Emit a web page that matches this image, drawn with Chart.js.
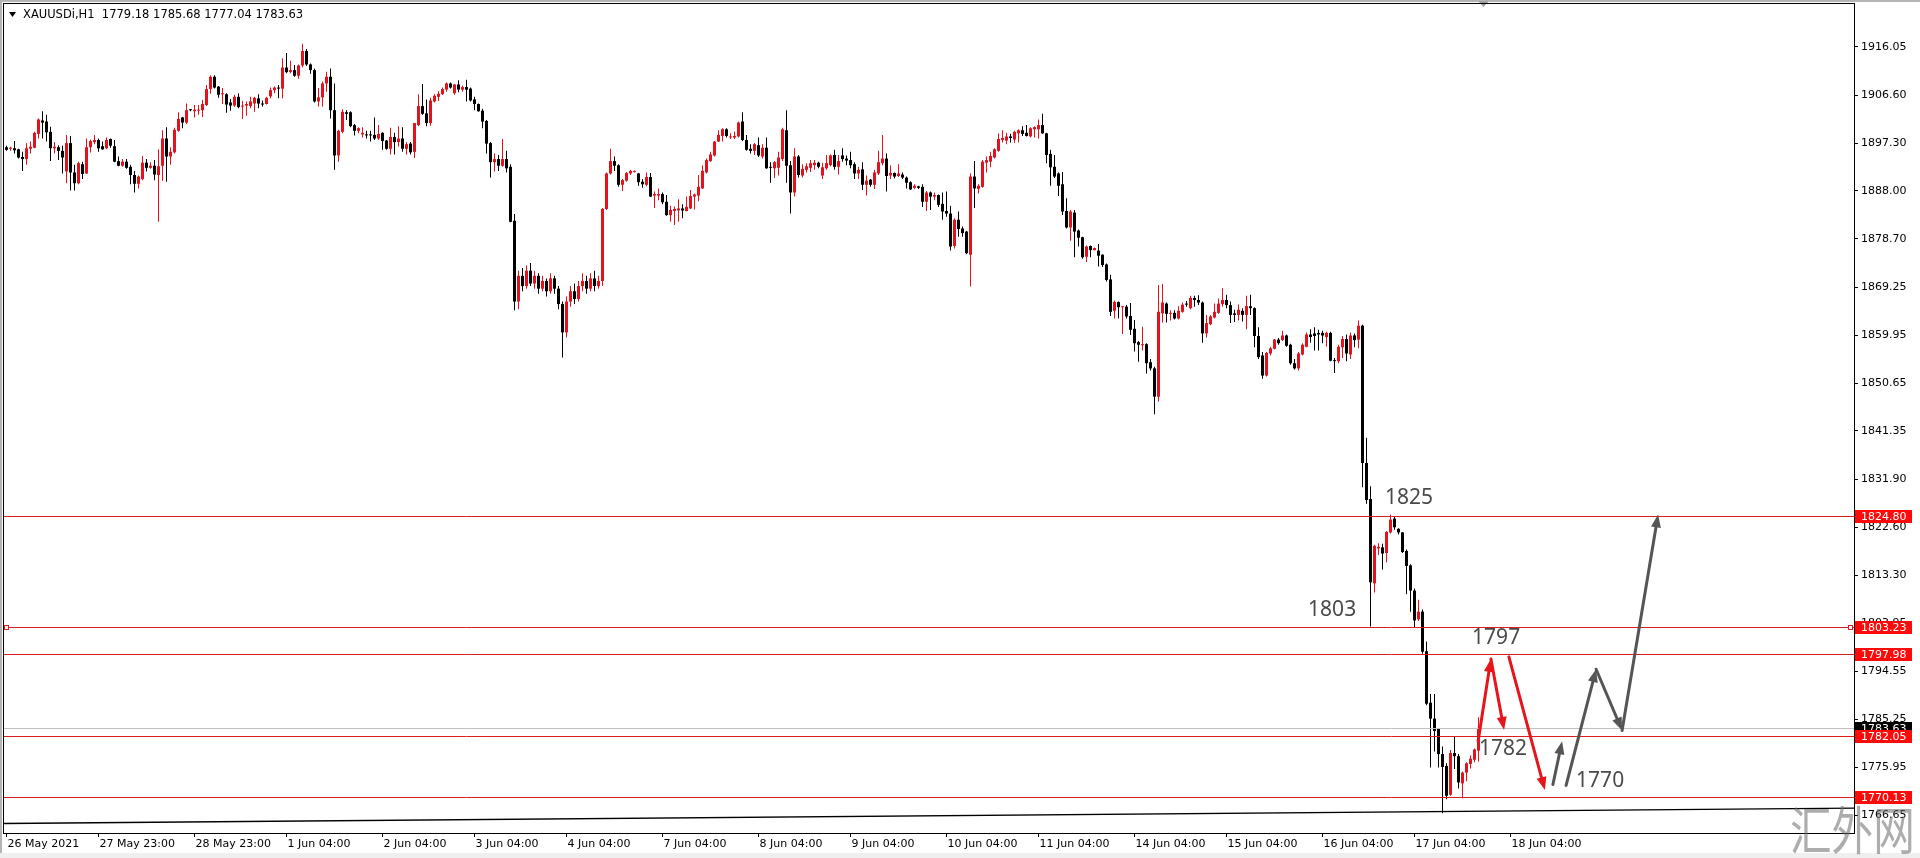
<!DOCTYPE html>
<html>
<head>
<meta charset="utf-8">
<title>XAUUSDi,H1</title>
<script src="https://cdn.jsdelivr.net/npm/chart.js@4.4.1/dist/chart.umd.min.js"></script>
<style>
  html, body { margin: 0; padding: 0; background: #fff; overflow: hidden; }
  canvas { display: block; }
</style>
</head>
<body>
<canvas id="chart" width="1920" height="858"></canvas>
<script>
const symbolName = 'XAUUSDi,H1';

// hourly candles (26 May - 17 Jun 2021)
const opens = [
  1896.5, 1896.2, 1896.3, 1896.1, 1894.6, 1894.2, 1896.2, 1896.4, 1899.1, 1901.7,
  1901.5, 1899.5, 1896.3, 1896.5, 1895.8, 1891.8, 1897.3, 1891.6, 1889.5, 1893.2,
  1891.4, 1896.5, 1897.5, 1897.9, 1896.7, 1896.3, 1898.1, 1896.7, 1893.8, 1892.9,
  1893.7, 1892.7, 1891.1, 1889.4, 1890.3, 1893.5, 1892.5, 1892.9, 1891.1, 1892.9,
  1898.2, 1894.7, 1895.5, 1899.7, 1902.3, 1901.3, 1903.8, 1903.5, 1903.6, 1903.7,
  1904.7, 1907.8, 1910.2, 1908.3, 1906.8, 1906.8, 1905.2, 1904.6, 1906.3, 1904.4,
  1904.6, 1904.5, 1905.0, 1906.0, 1905.0, 1904.9, 1906.4, 1907.6, 1908.1, 1907.9,
  1912.0, 1911.1, 1911.5, 1910.4, 1912.4, 1915.2, 1912.6, 1911.5, 1905.4, 1906.2,
  1908.9, 1910.2, 1903.7, 1894.9, 1899.5, 1903.3, 1903.3, 1900.8, 1899.7, 1899.0,
  1899.0, 1898.9, 1898.9, 1898.2, 1899.3, 1897.8, 1896.2, 1898.5, 1897.5, 1898.2,
  1896.2, 1897.2, 1895.6, 1900.8, 1904.5, 1903.1, 1901.2, 1905.4, 1906.3, 1906.8,
  1907.7, 1908.9, 1907.0, 1908.7, 1907.7, 1908.2, 1907.9, 1905.8, 1904.9, 1903.6,
  1901.6, 1897.3, 1893.6, 1894.2, 1892.9, 1894.2, 1892.7, 1882.2, 1866.5, 1871.5,
  1869.5, 1872.5, 1870.0, 1871.5, 1869.0, 1870.5, 1868.5, 1871.0, 1869.0, 1866.0,
  1860.5, 1866.5, 1868.5, 1867.0, 1869.5, 1870.5, 1869.0, 1871.0, 1869.5, 1870.5,
  1884.5, 1891.4, 1893.8, 1893.0, 1889.2, 1890.0, 1891.4, 1891.7, 1891.4, 1889.8,
  1889.2, 1890.7, 1887.1, 1887.1, 1887.4, 1885.9, 1883.3, 1884.1, 1884.2, 1884.6,
  1884.1, 1884.6, 1886.9, 1887.1, 1888.5, 1891.6, 1893.8, 1894.9, 1897.6, 1898.7,
  1900.0, 1898.4, 1898.4, 1898.6, 1901.5, 1897.9, 1896.2, 1895.8, 1896.9, 1894.7,
  1896.4, 1892.7, 1892.4, 1892.5, 1894.2, 1899.8, 1893.0, 1887.7, 1894.7, 1891.0,
  1892.1, 1892.5, 1893.0, 1893.5, 1891.0, 1892.4, 1893.0, 1895.0, 1892.7, 1894.9,
  1894.3, 1894.0, 1893.2, 1891.4, 1892.2, 1889.2, 1890.2, 1889.2, 1891.4, 1893.4,
  1894.3, 1891.0, 1891.5, 1890.9, 1891.2, 1890.6, 1889.7, 1888.6, 1888.9, 1888.8,
  1885.9, 1887.7, 1886.9, 1887.2, 1885.5, 1884.1, 1883.6, 1877.3, 1882.4, 1880.7,
  1880.1, 1875.6, 1890.8, 1888.4, 1888.8, 1893.5, 1893.7, 1894.5, 1895.8, 1897.9,
  1897.8, 1898.6, 1898.0, 1899.2, 1899.8, 1899.3, 1898.6, 1900.0, 1900.0, 1900.8,
  1899.2, 1895.2, 1892.7, 1891.4, 1889.3, 1884.1, 1880.9, 1883.8, 1880.3, 1879.0,
  1875.2, 1877.3, 1876.5, 1876.4, 1875.6, 1873.7, 1870.8, 1864.7, 1866.4, 1865.4,
  1865.5, 1863.7, 1861.2, 1858.6, 1858.0, 1858.2, 1854.7, 1853.5, 1848.0, 1864.2,
  1866.1, 1864.1, 1864.3, 1863.2, 1864.5, 1866.1, 1865.2, 1867.2, 1866.8, 1866.3,
  1860.3, 1862.1, 1863.4, 1864.3, 1866.0, 1866.8, 1865.8, 1864.2, 1863.9, 1864.7,
  1863.9, 1865.6, 1865.2, 1859.8, 1856.0, 1852.1, 1856.4, 1857.3, 1859.1, 1859.0,
  1859.9, 1858.1, 1854.5, 1853.5, 1856.2, 1857.7, 1860.1, 1860.3, 1860.4, 1860.4,
  1859.6, 1860.4, 1855.1, 1854.9, 1857.6, 1859.2, 1856.2, 1859.9, 1859.1, 1861.8,
  1835.1, 1828.1, 1811.7, 1818.5, 1818.7, 1817.6, 1821.6, 1824.3, 1822.3, 1821.6,
  1818.0, 1815.2, 1810.3, 1804.7, 1806.2, 1798.5, 1788.5, 1785.4, 1783.4, 1778.5,
  1776.2, 1770.6, 1778.7, 1778.1, 1772.8, 1774.9, 1776.6, 1777.4, 1779.18
];
const highs = [
  1896.8, 1896.6, 1897.7, 1896.2, 1895.6, 1897.3, 1897.6, 1899.5, 1902.1, 1903.5,
  1902.8, 1900.5, 1897.5, 1896.9, 1896.8, 1898.9, 1898.7, 1893.1, 1893.7, 1893.7,
  1898.2, 1898.0, 1898.9, 1898.2, 1897.6, 1898.4, 1898.2, 1897.9, 1894.7, 1894.2,
  1894.2, 1893.1, 1891.9, 1891.0, 1894.8, 1894.2, 1893.6, 1894.0, 1896.1, 1899.8,
  1900.4, 1896.5, 1900.3, 1903.3, 1902.4, 1905.0, 1903.9, 1904.7, 1904.7, 1905.7,
  1908.6, 1910.5, 1910.5, 1908.4, 1908.0, 1907.0, 1905.9, 1906.7, 1907.0, 1905.5,
  1905.4, 1906.3, 1906.3, 1906.8, 1905.6, 1906.3, 1908.1, 1908.3, 1908.6, 1913.8,
  1914.8, 1913.3, 1912.5, 1912.6, 1916.6, 1915.6, 1912.8, 1911.8, 1908.0, 1909.3,
  1911.2, 1911.8, 1908.9, 1899.9, 1903.9, 1903.7, 1903.5, 1901.0, 1900.4, 1900.4,
  1899.7, 1899.7, 1902.3, 1900.8, 1899.4, 1897.9, 1900.3, 1899.3, 1900.6, 1900.4,
  1897.5, 1897.5, 1901.2, 1906.8, 1908.8, 1905.8, 1906.1, 1906.8, 1907.4, 1908.1,
  1909.1, 1909.1, 1908.8, 1909.5, 1908.5, 1909.6, 1908.1, 1906.3, 1905.0, 1904.0,
  1901.8, 1897.5, 1895.3, 1895.0, 1898.1, 1895.8, 1893.2, 1883.5, 1872.5, 1873.0,
  1873.5, 1874.0, 1872.5, 1872.0, 1871.5, 1871.0, 1872.0, 1871.5, 1869.5, 1866.5,
  1867.5, 1869.5, 1870.0, 1870.5, 1872.0, 1871.5, 1872.0, 1872.5, 1871.5, 1884.7,
  1891.6, 1896.2, 1894.7, 1893.2, 1890.3, 1891.7, 1892.1, 1892.0, 1891.5, 1890.3,
  1891.6, 1891.5, 1887.9, 1888.5, 1887.7, 1887.2, 1885.1, 1885.0, 1886.4, 1885.4,
  1886.9, 1888.2, 1887.5, 1891.1, 1893.0, 1894.3, 1895.6, 1897.7, 1899.8, 1900.2,
  1900.2, 1899.2, 1899.5, 1901.5, 1903.3, 1898.9, 1897.1, 1897.3, 1898.4, 1897.1,
  1898.4, 1893.6, 1893.8, 1895.6, 1900.3, 1903.7, 1893.8, 1896.3, 1895.0, 1893.2,
  1893.4, 1894.0, 1894.0, 1893.7, 1893.5, 1895.0, 1895.1, 1896.0, 1895.0, 1896.3,
  1894.9, 1895.6, 1893.6, 1892.7, 1893.6, 1891.0, 1890.3, 1892.1, 1895.8, 1898.9,
  1895.3, 1893.0, 1891.6, 1893.2, 1891.6, 1890.8, 1889.9, 1889.3, 1889.0, 1889.3,
  1888.0, 1887.9, 1887.7, 1887.3, 1887.7, 1887.9, 1885.1, 1882.7, 1884.0, 1881.1,
  1880.2, 1891.4, 1893.8, 1889.3, 1894.0, 1894.7, 1895.6, 1896.3, 1899.2, 1899.8,
  1899.3, 1899.1, 1899.7, 1900.0, 1900.6, 1900.8, 1900.4, 1900.6, 1901.9, 1903.0,
  1899.3, 1896.0, 1895.0, 1891.6, 1891.7, 1886.6, 1884.3, 1884.3, 1880.5, 1879.1,
  1877.4, 1877.4, 1877.0, 1877.7, 1875.7, 1873.9, 1871.7, 1866.7, 1866.5, 1865.6,
  1865.8, 1866.2, 1862.9, 1858.8, 1861.6, 1858.4, 1855.3, 1853.8, 1869.7, 1869.9,
  1866.3, 1864.8, 1864.8, 1865.6, 1866.3, 1866.6, 1867.6, 1867.6, 1867.7, 1866.5,
  1863.9, 1863.9, 1866.1, 1867.1, 1869.1, 1867.8, 1866.5, 1864.9, 1865.9, 1865.2,
  1867.6, 1867.8, 1865.4, 1861.5, 1856.7, 1856.7, 1857.7, 1859.2, 1859.4, 1860.8,
  1860.1, 1858.3, 1855.3, 1856.7, 1858.4, 1860.5, 1861.1, 1861.5, 1861.0, 1860.8,
  1860.6, 1860.6, 1855.5, 1858.1, 1859.8, 1860.1, 1860.5, 1860.3, 1862.8, 1862.0,
  1840.0, 1830.6, 1819.2, 1819.5, 1819.4, 1821.9, 1825.1, 1824.6, 1822.4, 1821.7,
  1818.3, 1815.4, 1810.7, 1808.5, 1806.6, 1800.4, 1790.2, 1790.2, 1783.5, 1780.0,
  1776.7, 1779.3, 1782.0, 1778.5, 1775.1, 1776.9, 1778.3, 1779.6, 1785.68
];
const lows = [
  1895.8, 1895.8, 1895.3, 1894.3, 1891.9, 1893.1, 1895.3, 1896.3, 1898.2, 1898.2,
  1897.6, 1893.8, 1895.3, 1894.0, 1891.4, 1889.5, 1888.1, 1888.1, 1889.3, 1890.3,
  1891.3, 1895.5, 1897.1, 1895.6, 1896.0, 1896.1, 1896.4, 1893.6, 1892.8, 1892.7,
  1892.3, 1889.3, 1887.7, 1888.5, 1890.1, 1891.8, 1892.3, 1890.1, 1882.0, 1890.0,
  1889.8, 1893.1, 1895.3, 1899.5, 1900.2, 1901.0, 1903.5, 1902.3, 1902.8, 1902.4,
  1904.5, 1906.9, 1907.9, 1906.1, 1904.9, 1903.2, 1903.6, 1904.3, 1904.1, 1902.0,
  1902.6, 1904.1, 1903.4, 1904.1, 1904.4, 1904.8, 1906.0, 1907.0, 1906.0, 1906.0,
  1910.9, 1910.9, 1910.2, 1909.8, 1912.0, 1912.3, 1910.8, 1905.2, 1904.4, 1904.4,
  1907.3, 1902.1, 1892.1, 1893.7, 1899.2, 1901.8, 1900.4, 1898.8, 1899.2, 1898.4,
  1898.2, 1897.6, 1897.9, 1897.9, 1896.0, 1896.0, 1895.1, 1895.1, 1896.6, 1895.6,
  1895.1, 1895.1, 1894.4, 1900.6, 1902.8, 1900.6, 1900.7, 1905.2, 1905.5, 1906.7,
  1907.3, 1907.9, 1906.7, 1907.2, 1907.3, 1905.4, 1905.4, 1903.7, 1903.4, 1900.2,
  1895.3, 1890.6, 1891.8, 1891.9, 1892.7, 1891.6, 1881.9, 1864.8, 1865.0, 1868.5,
  1869.0, 1869.5, 1869.0, 1868.0, 1868.5, 1867.5, 1868.0, 1868.0, 1865.0, 1855.6,
  1859.5, 1865.5, 1866.0, 1866.5, 1868.5, 1868.0, 1868.5, 1868.5, 1869.0, 1869.5,
  1884.3, 1891.2, 1891.9, 1888.8, 1888.0, 1889.8, 1891.1, 1891.6, 1889.0, 1888.6,
  1888.9, 1886.8, 1884.7, 1886.2, 1885.4, 1883.2, 1882.0, 1881.4, 1882.0, 1882.7,
  1884.0, 1884.5, 1884.4, 1886.0, 1888.4, 1891.4, 1893.7, 1894.7, 1897.5, 1897.6,
  1898.4, 1898.1, 1898.1, 1898.4, 1897.7, 1895.8, 1895.3, 1895.0, 1894.6, 1894.3,
  1892.3, 1889.6, 1890.5, 1891.0, 1893.8, 1889.6, 1883.6, 1886.9, 1890.6, 1890.6,
  1891.6, 1891.7, 1892.1, 1892.4, 1890.3, 1892.1, 1892.8, 1892.1, 1891.2, 1893.7,
  1893.0, 1892.4, 1890.3, 1890.3, 1888.2, 1887.1, 1888.8, 1888.4, 1891.1, 1893.0,
  1887.9, 1890.3, 1890.4, 1890.7, 1890.3, 1888.5, 1888.2, 1888.4, 1888.4, 1884.9,
  1884.1, 1884.3, 1886.2, 1884.9, 1882.4, 1883.0, 1876.4, 1876.8, 1879.1, 1879.1,
  1875.7, 1869.4, 1884.7, 1887.5, 1888.6, 1891.6, 1892.6, 1894.3, 1895.6, 1897.4,
  1897.1, 1897.4, 1897.3, 1897.4, 1898.7, 1898.6, 1898.4, 1898.4, 1898.2, 1899.1,
  1893.4, 1889.0, 1890.5, 1887.0, 1883.3, 1880.7, 1878.3, 1875.1, 1877.2, 1874.8,
  1874.2, 1875.1, 1876.4, 1873.3, 1873.2, 1870.4, 1863.7, 1863.2, 1863.2, 1860.2,
  1863.2, 1860.0, 1856.8, 1854.8, 1857.0, 1852.5, 1853.1, 1844.6, 1847.0, 1862.4,
  1862.4, 1862.8, 1863.0, 1863.0, 1864.3, 1865.5, 1865.0, 1865.5, 1865.8, 1858.5,
  1859.5, 1861.9, 1863.2, 1864.1, 1865.5, 1865.2, 1862.3, 1862.5, 1862.8, 1862.6,
  1861.1, 1863.9, 1857.6, 1855.3, 1851.5, 1851.9, 1856.0, 1857.2, 1858.1, 1858.8,
  1857.7, 1854.2, 1853.3, 1853.1, 1856.0, 1857.6, 1858.5, 1857.0, 1857.0, 1858.4,
  1857.7, 1854.9, 1852.6, 1854.5, 1855.5, 1854.9, 1855.3, 1857.6, 1857.4, 1830.4,
  1827.2, 1803.3, 1809.9, 1817.2, 1814.4, 1815.8, 1821.4, 1822.1, 1821.2, 1817.6,
  1809.6, 1806.2, 1803.0, 1804.4, 1798.0, 1788.0, 1775.9, 1779.0, 1775.9, 1767.0,
  1769.7, 1770.4, 1775.6, 1771.8, 1769.9, 1773.2, 1775.7, 1776.9, 1777.04
];
const closes = [
  1896.0, 1896.4, 1895.9, 1894.5, 1894.2, 1896.3, 1896.6, 1899.3, 1901.9, 1901.3,
  1899.4, 1896.3, 1896.6, 1895.8, 1894.5, 1897.3, 1891.6, 1889.5, 1893.4, 1891.3,
  1896.5, 1897.7, 1897.9, 1896.3, 1896.1, 1897.9, 1896.8, 1893.7, 1892.9, 1893.7,
  1892.5, 1891.1, 1889.4, 1890.8, 1893.5, 1892.5, 1892.9, 1891.2, 1892.8, 1898.2,
  1894.7, 1895.6, 1899.9, 1902.0, 1901.3, 1903.7, 1903.7, 1903.8, 1903.8, 1904.9,
  1907.8, 1910.2, 1908.1, 1906.7, 1907.0, 1904.8, 1904.6, 1906.3, 1904.3, 1904.6,
  1904.9, 1905.4, 1906.1, 1905.0, 1904.8, 1906.1, 1907.6, 1908.1, 1907.9, 1912.0,
  1911.1, 1911.5, 1910.4, 1912.4, 1915.2, 1912.6, 1911.5, 1905.4, 1906.2, 1908.9,
  1910.2, 1903.7, 1894.9, 1899.7, 1903.4, 1903.0, 1900.6, 1899.7, 1900.2, 1899.3,
  1898.8, 1898.8, 1898.2, 1899.1, 1897.7, 1896.2, 1898.5, 1897.5, 1898.2, 1896.2,
  1897.1, 1895.5, 1901.2, 1904.5, 1903.0, 1901.2, 1905.6, 1906.5, 1906.9, 1907.8,
  1908.9, 1908.1, 1908.7, 1907.7, 1908.2, 1907.7, 1905.6, 1904.9, 1903.5, 1901.5,
  1897.2, 1893.6, 1894.2, 1892.9, 1894.2, 1892.4, 1882.0, 1866.5, 1871.5, 1869.5,
  1872.5, 1870.0, 1871.5, 1869.0, 1870.5, 1868.5, 1871.0, 1869.0, 1866.0, 1860.5,
  1866.5, 1868.5, 1867.0, 1869.5, 1870.5, 1869.0, 1871.0, 1869.5, 1870.5, 1884.5,
  1891.4, 1893.8, 1892.9, 1889.2, 1890.1, 1891.5, 1891.9, 1891.9, 1889.7, 1889.3,
  1890.7, 1886.9, 1887.4, 1887.4, 1885.8, 1883.3, 1884.3, 1884.5, 1884.6, 1884.2,
  1884.9, 1887.0, 1887.3, 1888.8, 1891.9, 1894.0, 1895.1, 1897.6, 1898.9, 1900.0,
  1898.7, 1898.6, 1898.7, 1901.3, 1897.9, 1896.0, 1895.8, 1897.1, 1894.9, 1896.4,
  1892.4, 1892.5, 1893.6, 1894.5, 1900.0, 1892.9, 1887.7, 1894.7, 1891.1, 1892.3,
  1892.8, 1893.4, 1893.5, 1892.7, 1892.6, 1893.4, 1894.9, 1892.7, 1893.8, 1894.2,
  1893.9, 1893.0, 1891.4, 1892.1, 1889.2, 1890.0, 1889.2, 1891.6, 1893.6, 1894.3,
  1890.9, 1891.5, 1890.8, 1891.4, 1890.6, 1889.6, 1888.3, 1889.0, 1888.6, 1885.9,
  1887.7, 1886.9, 1887.2, 1885.3, 1884.0, 1883.6, 1877.2, 1882.4, 1880.6, 1879.8,
  1875.9, 1890.8, 1888.5, 1889.0, 1893.7, 1894.0, 1894.8, 1896.1, 1898.1, 1898.3,
  1898.6, 1898.3, 1899.5, 1899.8, 1899.1, 1898.7, 1900.2, 1900.4, 1900.8, 1899.2,
  1895.0, 1892.6, 1890.8, 1889.0, 1884.0, 1880.9, 1884.0, 1880.1, 1878.9, 1875.1,
  1877.2, 1876.5, 1876.9, 1875.4, 1873.6, 1870.7, 1864.5, 1866.4, 1865.4, 1865.5,
  1863.6, 1861.0, 1858.4, 1858.1, 1858.2, 1854.5, 1853.5, 1848.0, 1864.5, 1866.3,
  1864.1, 1864.3, 1863.2, 1864.7, 1865.9, 1865.9, 1867.2, 1866.8, 1866.3, 1860.3,
  1862.3, 1863.6, 1864.5, 1866.1, 1866.8, 1865.8, 1863.9, 1863.9, 1864.9, 1863.9,
  1865.6, 1865.2, 1859.8, 1855.7, 1852.1, 1856.5, 1857.4, 1859.1, 1858.4, 1859.9,
  1857.9, 1854.5, 1853.5, 1856.4, 1858.1, 1860.1, 1859.6, 1859.8, 1860.1, 1859.9,
  1860.4, 1855.0, 1854.9, 1857.7, 1859.2, 1856.4, 1859.9, 1859.0, 1861.8, 1835.1,
  1827.9, 1811.9, 1819.0, 1818.8, 1817.5, 1821.7, 1824.1, 1822.6, 1821.6, 1817.8,
  1815.1, 1810.3, 1804.5, 1806.2, 1798.4, 1788.3, 1785.4, 1783.0, 1778.5, 1776.0,
  1770.4, 1778.7, 1778.1, 1773.0, 1774.9, 1776.7, 1777.6, 1779.4, 1783.63
];

// time axis labels and the bar each one sits on
const timeLabels = ['26 May 2021', '27 May 23:00', '28 May 23:00', '1 Jun 04:00', '2 Jun 04:00',
  '3 Jun 04:00', '4 Jun 04:00', '7 Jun 04:00', '8 Jun 04:00', '9 Jun 04:00', '10 Jun 04:00',
  '11 Jun 04:00', '14 Jun 04:00', '15 Jun 04:00', '16 Jun 04:00', '17 Jun 04:00', '18 Jun 04:00'];
const timeLabelBars = [0, 23, 47, 70, 94, 117, 140, 164, 188, 211, 235, 258, 282, 305, 329, 352, 376];

const priceTicks = [1916.05, 1906.60, 1897.30, 1888.00, 1878.70, 1869.25, 1859.95, 1850.65, 1841.35,
  1831.90, 1822.60, 1813.30, 1803.95, 1794.55, 1785.25, 1775.95, 1766.65];

// horizontal levels drawn on the chart, and the last price
const levelPrices = [1824.80, 1803.23, 1797.98, 1782.05, 1770.13];
const lastPrice = 1783.63;

// trend line along the bottom
const trendBars = [-0.625, 461.875];
const trendPrices = [1765.0, 1768.0];

// price notes written on the chart
const noteTexts = ['1825', '1803', '1797', '1782', '1770'];
const noteBars = [344.6, 325.4, 366.4, 368.1, 392.4];
const notePrices = [1828.3, 1806.5, 1801.0, 1779.5, 1773.3];

// hand drawn arrows: [fromBar, fromPrice, toBar, toPrice]
const redArrows = [
  [367.9, 1781.0, 371.1, 1797.0],
  [371.1, 1797.0, 374.4, 1783.2],
  [375.6, 1797.4, 384.6, 1771.5]
];
const greyArrows = [
  [386.6, 1772.6, 388.9, 1781.0],
  [389.9, 1772.4, 397.4, 1795.0],
  [397.4, 1795.0, 403.9, 1783.1],
  [403.9, 1783.1, 412.9, 1825.1]
];

const upColor = '#e3121c';
const downColor = '#000000';
const levelColor = '#d81e1e';
const font = 'DejaVu Sans';

const candleColors = closes.map((c, i) => (c >= opens[i] ? upColor : downColor));

function drawArrow(ctx, x0, y0, x1, y1, color) {
  const ang = Math.atan2(y1 - y0, x1 - x0);
  const len = 13, half = 5;
  const bx = x1 - len * Math.cos(ang);
  const by = y1 - len * Math.sin(ang);
  ctx.strokeStyle = color;
  ctx.fillStyle = color;
  ctx.lineWidth = 3;
  ctx.lineCap = 'round';
  ctx.beginPath();
  ctx.moveTo(x0, y0);
  ctx.lineTo(bx, by);
  ctx.stroke();
  ctx.beginPath();
  ctx.moveTo(x1, y1);
  ctx.lineTo(bx + half * Math.sin(ang), by - half * Math.cos(ang));
  ctx.lineTo(bx - half * Math.sin(ang), by + half * Math.cos(ang));
  ctx.closePath();
  ctx.fill();
}

// no label overhang padding: the scales must fill the whole frame
const noPadding = s => {
  s.paddingLeft = 0;
  s.paddingRight = 0;
  s.paddingTop = 0;
  s.paddingBottom = 0;
};

const overlay = {
  id: 'overlay',
  afterDatasetsDraw(chart) {
    const {ctx, chartArea: a, scales: {x, y}} = chart;
    const crisp = v => Math.round(v) + 0.5;
    ctx.save();
    ctx.beginPath();
    ctx.rect(a.left, a.top, a.right - a.left, a.bottom - a.top);
    ctx.clip();

    ctx.strokeStyle = '#000';
    ctx.lineWidth = 1.4;
    ctx.beginPath();
    ctx.moveTo(x.getPixelForValue(trendBars[0]), y.getPixelForValue(trendPrices[0]));
    ctx.lineTo(x.getPixelForValue(trendBars[1]), y.getPixelForValue(trendPrices[1]));
    ctx.stroke();

    ctx.lineWidth = 1;
    ctx.strokeStyle = '#c0c0c0';
    const ly = crisp(y.getPixelForValue(lastPrice));
    ctx.beginPath();
    ctx.moveTo(a.left, ly);
    ctx.lineTo(a.right, ly);
    ctx.stroke();

    ctx.strokeStyle = levelColor;
    levelPrices.forEach(p => {
      const yy = crisp(y.getPixelForValue(p));
      ctx.beginPath();
      ctx.moveTo(a.left, yy);
      ctx.lineTo(a.right, yy);
      ctx.stroke();
    });
    // selected level gets its end markers
    const sy = crisp(y.getPixelForValue(levelPrices[1]));
    ctx.fillStyle = '#fff';
    [a.left + 2.5, a.right - 3.5].forEach(sx => {
      ctx.fillRect(sx - 2, sy - 2, 4, 4);
      ctx.strokeRect(sx - 2, sy - 2, 4, 4);
    });

    redArrows.forEach(s => drawArrow(ctx, x.getPixelForValue(s[0]), y.getPixelForValue(s[1]),
      x.getPixelForValue(s[2]), y.getPixelForValue(s[3]), '#e8141c'));
    greyArrows.forEach(s => drawArrow(ctx, x.getPixelForValue(s[0]), y.getPixelForValue(s[1]),
      x.getPixelForValue(s[2]), y.getPixelForValue(s[3]), '#555555'));

    ctx.fillStyle = '#4a4a4a';
    ctx.font = '21px "Noto Sans"';
    ctx.textAlign = 'left';
    ctx.textBaseline = 'middle';
    noteTexts.forEach((t, i) => {
      ctx.fillText(t, x.getPixelForValue(noteBars[i]), y.getPixelForValue(notePrices[i]));
    });
    ctx.restore();
  },
  afterDraw(chart) {
    const {ctx, chartArea: a, scales: {y}} = chart;
    ctx.save();
    // window edges
    ctx.fillStyle = '#b4b4b4';
    ctx.fillRect(0, 0, chart.width, 2);
    ctx.fillRect(0, 0, 2, chart.height);
    ctx.fillStyle = '#efefef';
    ctx.fillRect(0, chart.height - 5, chart.width, 5);
    // chart shift marker
    ctx.fillStyle = '#a0a0a0';
    ctx.beginPath();
    ctx.moveTo(1478, 1);
    ctx.lineTo(1489, 1);
    ctx.lineTo(1483.5, 7);
    ctx.closePath();
    ctx.fill();
    // frame
    ctx.strokeStyle = '#000';
    ctx.lineWidth = 1;
    ctx.strokeRect(a.left - 0.5, a.top - 0.5, a.right - a.left + 1, a.bottom - a.top + 1);

    // price boxes on the axis
    ctx.font = '11px "' + font + '"';
    ctx.textAlign = 'left';
    ctx.textBaseline = 'middle';
    const box = (price, fill) => {
      const yy = Math.round(y.getPixelForValue(price));
      ctx.fillStyle = fill;
      ctx.fillRect(a.right + 1, yy - 6, 57, 13);
      ctx.fillStyle = '#fff';
      ctx.fillText(price.toFixed(2), a.right + 7, yy + 1);
    };
    box(lastPrice, '#000');
    levelPrices.forEach(p => box(p, '#ff0a0a'));

    // header
    ctx.fillStyle = '#000';
    ctx.beginPath();
    ctx.moveTo(9, 12);
    ctx.lineTo(16, 12);
    ctx.lineTo(12.5, 17);
    ctx.closePath();
    ctx.fill();
    ctx.font = '11.5px "' + font + '"';
    const n = closes.length - 1;
    ctx.fillText(symbolName + '  ' + [opens[n], highs[n], lows[n], closes[n]].map(v => v.toFixed(2)).join(' '), 23, 15);

    // watermark
    ctx.fillStyle = 'rgba(105,105,105,0.55)';
    ctx.font = '400 52px "Noto Sans CJK SC"';
    ctx.textBaseline = 'alphabetic';
    ctx.translate(1790, 850);
    ctx.scale(0.8, 1);
    ctx.fillText('汇外网', 0, 0);
    ctx.restore();
  }
};

new Chart(document.getElementById('chart'), {
  type: 'bar',
  data: {
    datasets: [
      {
        // wicks
        data: lows.map((l, i) => ({x: i, y: [l, highs[i]]})),
        backgroundColor: candleColors,
        grouped: false,
        categoryPercentage: 1,
        barPercentage: 0.25,
        minBarLength: 1,
        inflateAmount: 0,
        borderWidth: 0,
        order: 2
      },
      {
        // bodies
        data: opens.map((o, i) => ({x: i, y: [o, closes[i]]})),
        backgroundColor: candleColors,
        grouped: false,
        categoryPercentage: 1,
        barPercentage: 0.75,
        minBarLength: 1,
        inflateAmount: 0,
        borderWidth: 0,
        order: 1
      }
    ]
  },
  options: {
    responsive: false,
    animation: false,
    devicePixelRatio: 1,
    layout: {padding: {top: 4, left: 4, right: 0, bottom: 0}},
    plugins: {legend: {display: false}, tooltip: {enabled: false}},
    scales: {
      x: {
        type: 'linear',
        offset: false,
        min: -0.625,
        max: 461.875,
        afterBuildTicks: s => { s.ticks = timeLabelBars.map(v => ({value: v})); },
        afterFit: s => { s.height = 25; noPadding(s); },
        grid: {offset: false, drawOnChartArea: false, drawTicks: true, tickLength: 4, color: '#000'},
        border: {display: false},
        ticks: {
          autoSkip: false, maxRotation: 0, align: 'start', padding: 1, labelOffset: 1,
          color: '#000', font: {family: font, size: 11},
          callback: (v, i) => timeLabels[i]
        }
      },
      y: {
        position: 'right',
        min: 1763.16,
        max: 1924.35,
        afterBuildTicks: s => { s.ticks = priceTicks.map(v => ({value: v})); },
        afterFit: s => { s.width = 66; noPadding(s); },
        grid: {drawOnChartArea: false, drawTicks: true, tickLength: 4, color: '#000'},
        border: {display: false},
        ticks: {padding: 3, color: '#000', font: {family: font, size: 11}, callback: v => v.toFixed(2)}
      }
    }
  },
  plugins: [overlay]
});
</script>
</body>
</html>
